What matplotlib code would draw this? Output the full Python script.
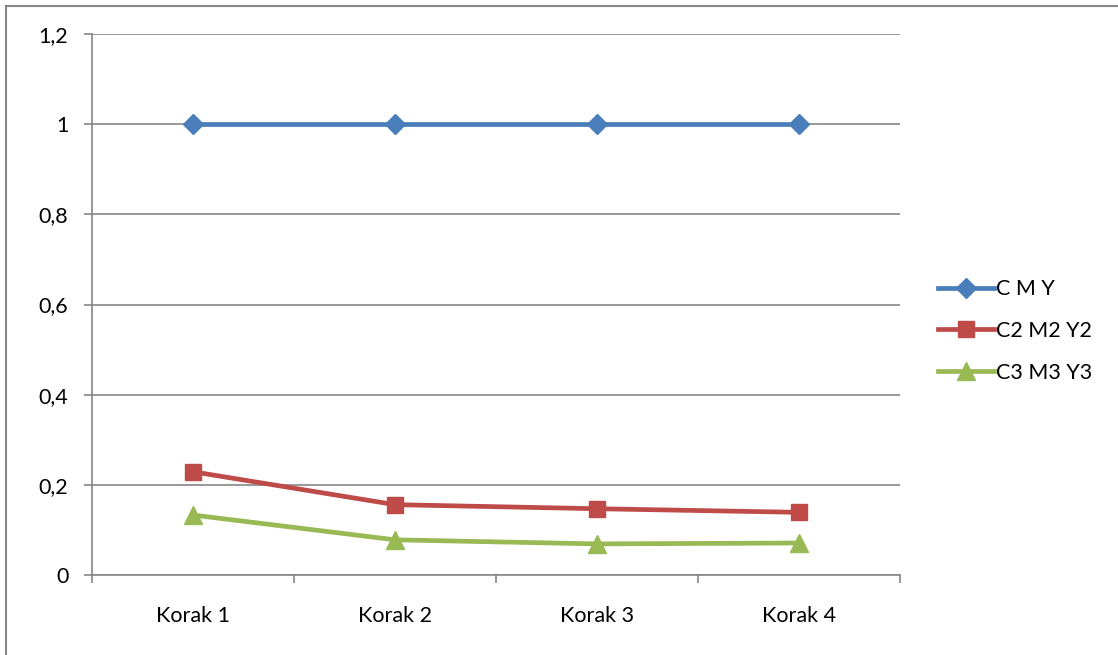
import matplotlib
matplotlib.use("Agg")
import matplotlib.pyplot as plt
from matplotlib.lines import Line2D

categories = ["Korak 1", "Korak 2", "Korak 3", "Korak 4"]
cmy = [1.0, 1.0, 1.0, 1.0]
c2m2y2 = [0.229, 0.156, 0.147, 0.139]
c3m3y3 = [0.133, 0.078, 0.069, 0.071]
y_ticks = [0, 0.2, 0.4, 0.6, 0.8, 1.0, 1.2]
y_labels = ["0", "0,2", "0,4", "0,6", "0,8", "1", "1,2"]

plt.rcParams['font.family'] = ['Lato', 'DejaVu Sans']
fs = 15.5

fig = plt.figure(figsize=(11.18, 6.55), dpi=100)
ax = fig.add_axes([92 / 1118, 1 - 575 / 655, 808 / 1118, 541 / 655])

# outer chart border
fig.add_artist(Line2D([6 / 1118, 6 / 1118], [0, 1 - 6 / 655], transform=fig.transFigure, color="#868686", lw=1.5))
fig.add_artist(Line2D([6 / 1118, 1], [1 - 6 / 655, 1 - 6 / 655], transform=fig.transFigure, color="#868686", lw=1.5))

x = range(len(categories))
ax.plot(x, cmy, color="#4A7EBB", lw=3.4, marker="D", ms=10.5, label="C M Y", zorder=3)
ax.plot(x, c2m2y2, color="#BE4B48", lw=3.4, marker="s", ms=11.5, label="C2 M2 Y2", zorder=3)
ax.plot(x, c3m3y3, color="#98B954", lw=3.4, marker="^", ms=12.5, label="C3 M3 Y3", zorder=3)

ax.set_xlim(-0.5, len(categories) - 0.5)
ax.set_ylim(0, 1.2)
ax.set_yticks(y_ticks)
ax.set_yticklabels(y_labels)
ax.set_xticks(list(x))
ax.set_xticklabels(categories)
ax.set_xticks([i - 0.5 for i in range(len(categories) + 1)], minor=True)
ax.tick_params(axis="x", which="major", length=0, pad=22, labelsize=fs)
ax.tick_params(axis="x", which="minor", length=6, width=1.2, color="#868686", direction="out")
ax.tick_params(axis="y", length=6, width=1.2, color="#868686", pad=11, labelsize=fs)
ax.grid(axis="y", color="#868686", lw=1.2)
ax.set_axisbelow(True)
for s in ["top", "right"]:
    ax.spines[s].set_visible(False)
for s in ["left", "bottom"]:
    ax.spines[s].set_color("#868686")
    ax.spines[s].set_linewidth(1.2)

ax.legend(loc="center left", bbox_to_anchor=(1.047, 0.451), frameon=False, fontsize=fs,
          handlelength=2.6, handletextpad=0.1, labelspacing=1.0, borderaxespad=0, borderpad=0)

fig.savefig("out.png", dpi=100)
